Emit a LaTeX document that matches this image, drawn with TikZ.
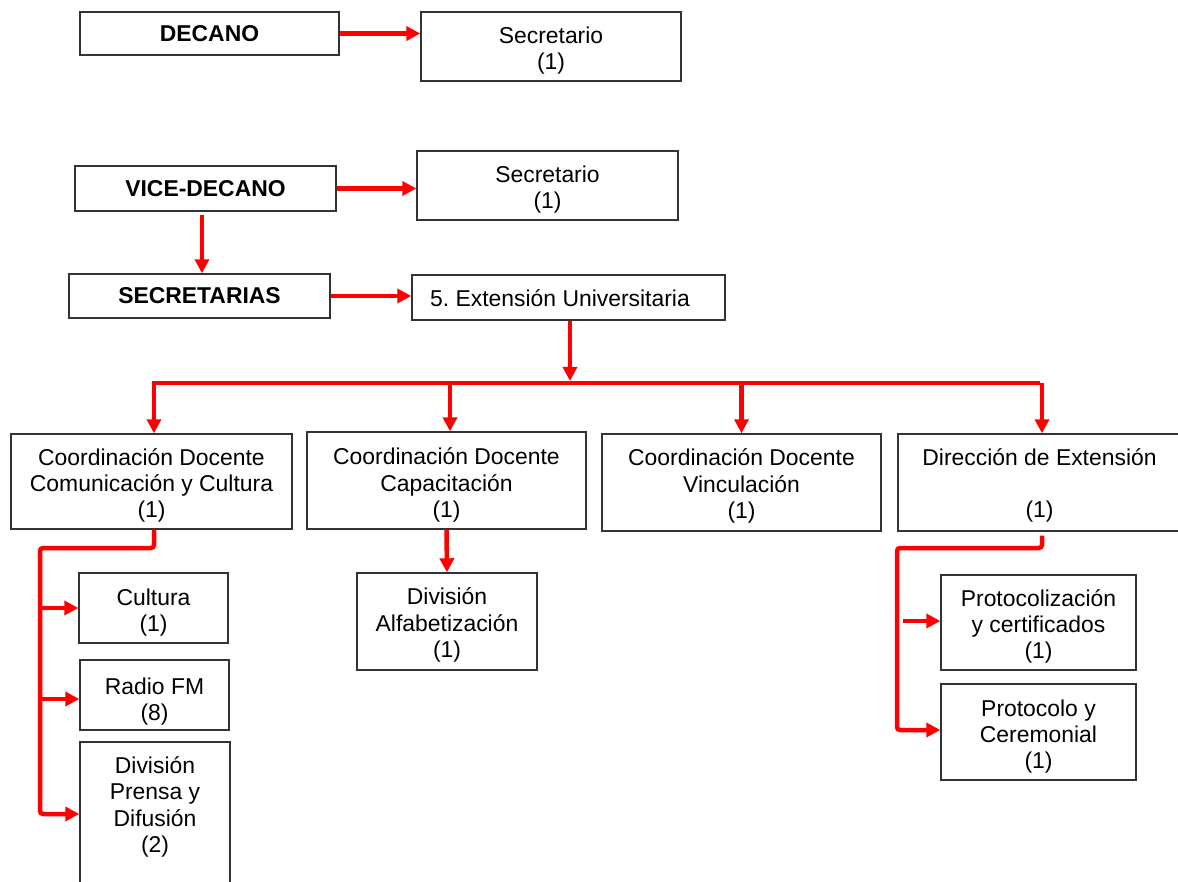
\documentclass[tikz,border=0pt]{standalone}
\usepackage{fontspec}
\setmainfont{Liberation Sans}
\usetikzlibrary{arrows.meta}

\tikzset{
  box/.style={draw=black!80, line width=1.4pt, fill=white, inner sep=0pt},
  txt/.style={align=center, inner sep=0pt, font=\fontsize{22.9}{26.3}\selectfont},
  arr/.style={draw={rgb,255:red,255;green,0;blue,0}, line width=4.5pt,
    -{Triangle[length=14pt,width=14pt]}, rounded corners=3pt},
  redline/.style={draw={rgb,255:red,255;green,0;blue,0}, line width=4.5pt, rounded corners=3pt}
}

\begin{document}
\frenchspacing
\begin{tikzpicture}[x=1pt,y=-1pt]
\useasboundingbox (0,0) rectangle (1178,882);
\clip (0,0) rectangle (1178,882);

% top level boxes
\node[box, minimum width=259pt, minimum height=43pt] (decano) at (209.5,33.5) {};
\node[box, minimum width=260pt, minimum height=69pt] (sec1) at (551,46.5) {};
\node[box, minimum width=261pt, minimum height=45pt] (vice) at (205.5,188.5) {};
\node[box, minimum width=261pt, minimum height=69pt] (sec2) at (547.5,185.5) {};
\node[box, minimum width=261pt, minimum height=44pt] (secretarias) at (199.5,296) {};
\node[box, minimum width=313pt, minimum height=45pt] (ext) at (568.5,297.5) {};

% coordinations
\node[box, minimum width=281pt, minimum height=95pt] (ccA) at (151.5,481.5) {};
\node[box, minimum width=279pt, minimum height=97pt] (ccB) at (446.5,480.5) {};
\node[box, minimum width=279pt, minimum height=97pt] (ccC) at (741.5,482.5) {};
\node[box, minimum width=283pt, minimum height=97pt] (dirext) at (1039.5,482.5) {};

% units
\node[box, minimum width=149pt, minimum height=70pt] (cultura) at (153.5,608) {};
\node[box, minimum width=149pt, minimum height=70pt] (radio) at (154.5,695) {};
\node[box, minimum width=150pt, minimum height=144pt] (prensa) at (155,814) {};
\node[box, minimum width=180pt, minimum height=97pt] (alfa) at (447,621.5) {};
\node[box, minimum width=195pt, minimum height=95pt] (protz) at (1038.5,622.5) {};
\node[box, minimum width=195pt, minimum height=96pt] (protocolo) at (1038.5,732) {};

% texts
\node[txt] (decanoT) at (209.5,33.5) {\textbf{DECANO}};
\node[txt] (sec1T) at (551,50.5) {Secretario\\(1)};
\node[txt] (viceT) at (205.5,188.5) {\textbf{VICE-DECANO}};
\node[txt] (sec2T) at (547.5,189.5) {Secretario\\(1)};
\node[txt] (secretariasT) at (199.5,296) {\textbf{SECRETARIAS}};
\node[txt] (extT) at (560,298) {5. Extensión Universitaria};
\node[txt] (ccAT) at (151.5,485.5) {Coordinación Docente\\Comunicación y Cultura\\(1)};
\node[txt] (ccBT) at (446.5,485) {Coordinación Docente\\Capacitación\\(1)};
\node[txt] (ccCT) at (741.5,486) {Coordinación Docente\\Vinculación\\(1)};
\node[txt] (dirextT) at (1039.5,485.5) {Dirección de Extensión\\\strut\\(1)};
\node[txt] (culturaT) at (153.5,612.5) {Cultura\\(1)};
\node[txt] (radioT) at (154.5,701.5) {Radio FM\\(8)};
\node[txt] (prensaT) at (155,807) {División\\Prensa y\\Difusión\\(2)};
\node[txt] (alfaT) at (447,625) {División\\Alfabetización\\(1)};
\node[txt] (protzT) at (1038.5,626.5) {Protocolización\\y certificados\\(1)};
\node[txt] (protocoloT) at (1038.5,736.5) {Protocolo y\\Ceremonial\\(1)};

% connectors
\coordinate (bar) at (570,383);
\coordinate (lt) at (40,548);
\coordinate (rt) at (897,548);

\draw[arr] (decano.east) -- (decano.east -| sec1.west);
\draw[arr] (vice.east) -- (vice.east -| sec2.west);
\draw[arr] ([xshift=-3.5pt,yshift=-3pt]vice.south) -- ([xshift=2.5pt]secretarias.north);
\draw[arr] (secretarias.east) -- (secretarias.east -| ext.west);

\draw[redline] (ccA.north |- bar) -- (dirext.north |- bar);
\draw[arr] ([xshift=1.5pt]ext.south) -- ([xshift=1.5pt,yshift=2pt]ext.south |- bar);
\draw[arr] ([xshift=2.5pt]ccA.north |- bar) -- ([xshift=2.5pt]ccA.north);
\draw[arr] ([xshift=3.5pt]ccB.north |- bar) -- ([xshift=3.5pt]ccB.north);
\draw[arr] (ccC.north |- bar) -- (ccC.north);
\draw[arr] ([xshift=2.5pt]dirext.north |- bar) -- ([xshift=2.5pt]dirext.north);

% Comunicacion y Cultura branch
\draw[arr] ([xshift=2.5pt]ccA.south) |- (lt) |- (prensa.west);
\draw[arr] (lt |- cultura.west) -- (cultura.west);
\draw[arr] ([yshift=-4pt]lt |- radio.west) -- ([yshift=-4pt]radio.west);

% Capacitacion branch
\draw[arr] (ccB.south) -- (alfa.north);

% Direccion de Extension branch
\draw[arr] ([xshift=2.5pt,yshift=-4pt]dirext.south) |- (rt) |- ([yshift=2pt]protocolo.west);
\draw[arr] ([xshift=6pt,yshift=1.5pt]rt |- protz.west) -- ([yshift=1.5pt]protz.west);
\end{tikzpicture}
\end{document}
